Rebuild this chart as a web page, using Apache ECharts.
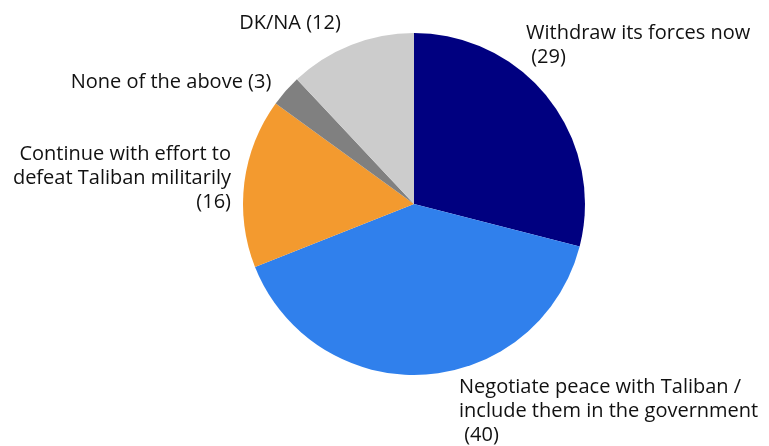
<!DOCTYPE html>
<html>
<head>
<meta charset="utf-8">
<script src="https://cdn.jsdelivr.net/npm/echarts@6/dist/echarts.min.js"></script>
<style>html,body{margin:0;padding:0;background:#fff;}#c{width:769px;height:446px;}</style>
</head>
<body>
<div id="c"></div>
<script>
const categories = [
  'Withdraw its forces now',
  'Negotiate peace with Taliban /\ninclude them in the government',
  'Continue with effort to\ndefeat Taliban militarily',
  'None of the above',
  'DK/NA'
];
const values = [29, 40, 16, 3, 12];
const colors = ['#000080', '#3080EC', '#F39A2F', '#808080', '#CCCCCC'];
const valueSeparators = ['\n ', '\n ', '\n', ' ', ' '];
// label anchor placement (layout only)
const labelAnchors = [
  {x: 526, y: 45, align: 'left'},
  {x: 459, y: 411, align: 'left'},
  {x: 231, y: 178, align: 'right'},
  {x: 171, y: 82, align: 'center'},
  {x: 290, y: 23, align: 'center'}
];

const chart = echarts.init(document.getElementById('c'));
chart.setOption({
  animation: false,
  series: [{
    type: 'pie',
    center: [414, 204],
    radius: 171,
    startAngle: 90,
    clockwise: true,
    data: categories.map((n, i) => ({name: n, value: values[i], itemStyle: {color: colors[i]}})),
    itemStyle: {borderWidth: 0},
    label: {
      show: true,
      position: 'outside',
      fontFamily: 'Open Sans',
      fontSize: 20,
      lineHeight: 24,
      color: '#111',
      overflow: 'none',
      width: 400,
      formatter: p => p.name + valueSeparators[p.dataIndex] + '(' + p.value + ')'
    },
    labelLine: {show: false},
    labelLayout: p => {
      const a = labelAnchors[p.dataIndex];
      return {x: a.x, y: a.y, align: a.align, verticalAlign: 'middle'};
    },
    emphasis: {disabled: true}
  }]
});
</script>
</body>
</html>
